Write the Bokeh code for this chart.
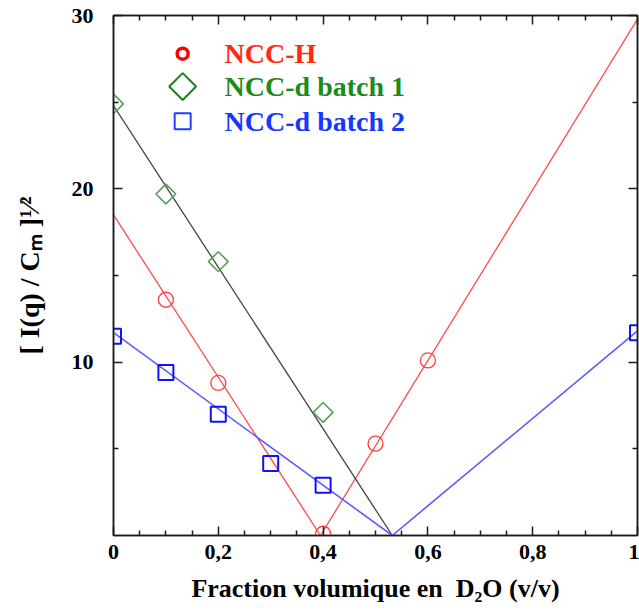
import numpy as np
from bokeh.plotting import figure
from bokeh.models import LinearAxis, FixedTicker, CustomJSTickFormatter
from bokeh.core.properties import value
from bokeh.embed import file_html
from bokeh.resources import INLINE

# ---------------- data ----------------
# NCC-H (red circles) and its V-shaped fit
x_ncch = [0.1, 0.2, 0.4, 0.5, 0.6]
y_ncch = [13.6, 8.8, 0.1, 5.3, 10.1]
fit_ncch_x = [0.0, 0.395, 1.0]
fit_ncch_y = [18.5, 0.0, 29.8]

# NCC-d batch 1 (green diamonds) and its fit (black line)
x_b1 = [0.0, 0.1, 0.2, 0.4]
y_b1 = [24.9, 19.7, 15.8, 7.1]
fit_b1_x = [0.0, 0.532]
fit_b1_y = [24.8, 0.0]

# NCC-d batch 2 (blue squares) and its fit
x_b2 = [0.0, 0.1, 0.2, 0.3, 0.4, 1.0]
y_b2 = [11.5, 9.4, 7.0, 4.15, 2.9, 11.7]
fit_b2_x = [0.0, 0.532, 1.0]
fit_b2_y = [11.7, 0.0, 11.8]

series_names = ["NCC-H", "NCC-d batch 1", "NCC-d batch 2"]
x_major_ticks = [0, 0.2, 0.4, 0.6, 0.8, 1.0]
x_minor_ticks = [0.05, 0.1, 0.15, 0.25, 0.3, 0.35, 0.45, 0.5, 0.55, 0.65,
                 0.7, 0.75, 0.85, 0.9, 0.95]
y_major_ticks = [10, 20, 30]
y_minor_ticks = [5, 15, 25]
x_title = "Fraction volumique en\u00a0 D\u2082O (v/v)"
y_title = "[ I(q) / C\u2098 ]\u00b9\u2044\u00b2"

# ---------------- styling ----------------
FONT = "Liberation Serif"
AX = "#1a1a1a"

p = figure(width=639, height=611, x_range=(0, 1), y_range=(0, 30),
           output_backend="svg", toolbar_location=None,
           min_border_left=113, min_border_right=2,
           min_border_top=15, min_border_bottom=76,
           x_axis_label=x_title, y_axis_label=y_title)
p.xgrid.visible = False
p.ygrid.visible = False
p.outline_line_color = AX
p.outline_line_width = 1.5
p.background_fill_color = "white"
p.border_fill_color = "white"

xt = FixedTicker(ticks=x_major_ticks, minor_ticks=x_minor_ticks)
yt = FixedTicker(ticks=y_major_ticks, minor_ticks=y_minor_ticks)
xfmt = CustomJSTickFormatter(code="""
    const s = (Math.round(tick * 10) / 10).toString();
    return s.replace('.', ',');
""")


def style(ax):
    ax.axis_line_color = AX
    ax.axis_line_width = 1.5
    ax.major_tick_line_color = AX
    ax.minor_tick_line_color = AX
    ax.major_tick_line_width = 1.5
    ax.minor_tick_line_width = 1.5
    ax.major_tick_in = 9
    ax.major_tick_out = 0
    ax.minor_tick_in = 5
    ax.minor_tick_out = 0
    ax.major_label_text_font = FONT
    ax.major_label_text_font_style = "bold"
    ax.major_label_text_font_size = "22px"
    ax.major_label_text_color = "black"
    ax.axis_label_text_font = FONT
    ax.axis_label_text_font_style = "bold"
    ax.axis_label_text_font_size = "26px"
    ax.axis_label_text_color = "black"


xa = p.xaxis[0]
ya = p.yaxis[0]
style(xa)
style(ya)
xa.ticker = xt
xa.formatter = xfmt
xa.major_label_standoff = 9
xa.axis_label_standoff = 12
ya.ticker = yt
ya.major_label_standoff = 20
ya.axis_label_standoff = 24
ya.axis_label_text_font_size = "28px"

# mirrored axes (ticks only)
blank = CustomJSTickFormatter(code="return '';")
top = LinearAxis(ticker=xt, formatter=blank)
right = LinearAxis(ticker=yt, formatter=blank)
for ax in (top, right):
    style(ax)
    ax.major_label_text_font_size = "0px"
    ax.major_label_standoff = 0
p.add_layout(top, "above")
p.add_layout(right, "right")

# ---------------- fit lines ----------------
p.line(fit_ncch_x, fit_ncch_y, line_color="#ff4a4a", line_width=1.3)
p.line(fit_b1_x, fit_b1_y, line_color="#444444", line_width=1.3)
p.line(fit_b2_x, fit_b2_y, line_color="#5c5cff", line_width=1.6)

# ---------------- markers ----------------
p.scatter(x_ncch, y_ncch, marker="circle", size=15, fill_color=None,
          line_color="#ff4040", line_width=1.3)
p.scatter(x_b1, y_b1, marker="square", angle=np.pi / 4, size=14,
          fill_color=None, line_color="#5a9e5a", line_width=1.6)
p.scatter(x_b2, y_b2, marker="square", size=15, fill_color=None,
          line_color="#1010ff", line_width=2)

# ---------------- legend (drawn by hand: coloured labels) ----------------
leg_marker_x = 0.132
leg_label_x = 0.212
leg_rows = [27.8, 25.9, 23.9]
leg_text_colors = ["#ff2a14", "#1c8a1c", "#1438ff"]

p.scatter([leg_marker_x], [leg_rows[0]], marker="circle", size=11,
          fill_color=None, line_color="#ff0000", line_width=3.5)
p.scatter([leg_marker_x], [leg_rows[1]], marker="square", angle=np.pi / 4,
          size=19, fill_color=None, line_color="#1f7f1f", line_width=2)
p.scatter([leg_marker_x], [leg_rows[2]], marker="square", size=16,
          fill_color=None, line_color="#2040ff", line_width=2)
p.text([leg_label_x] * 3, leg_rows, text=series_names,
       text_color=leg_text_colors, text_font=value(FONT),
       text_font_style="bold", text_font_size="28px",
       text_baseline="middle", text_align="left")

open("out.html", "w").write(file_html(p, INLINE))
